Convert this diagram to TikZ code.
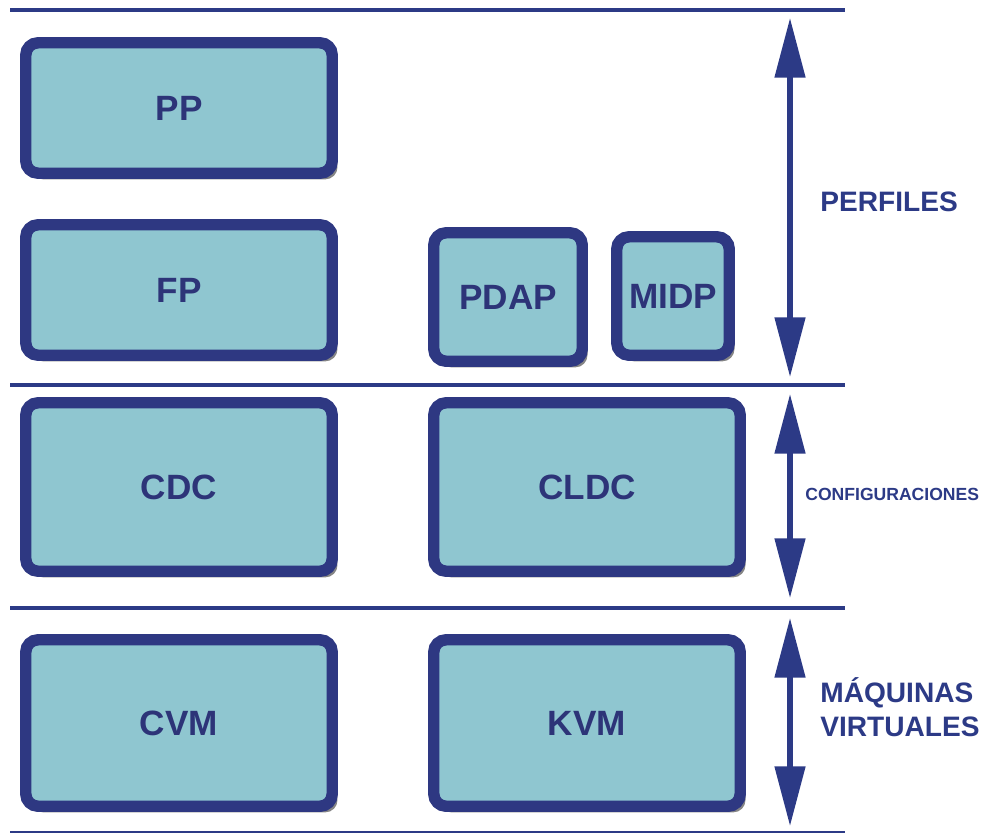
\documentclass[tikz,border=0pt]{standalone}
\usepackage{fontspec}
\setmainfont{Liberation Sans}
\usetikzlibrary{arrows.meta,shadows}

\definecolor{boxfill}{HTML}{8FC6D0}
\definecolor{boxedge}{HTML}{2E3882}
\definecolor{layerline}{HTML}{2C3A86}
\definecolor{boxtext}{HTML}{2D3478}

\begin{document}
\begin{tikzpicture}[x=0.02cm,y=-0.02cm,
    box/.style={draw=boxedge,fill=boxfill,line width=6.5pt,rounded corners=7pt,
      text=boxtext,font=\fontsize{20}{24}\selectfont\bfseries,
      drop shadow={shadow xshift=3pt,shadow yshift=-3.5pt,fill=black!80,opacity=0.6}},
    layer/.style={draw=layerline,line width=2.3pt},
    span/.style={draw=layerline,line width=3pt,
      {Triangle[width=17pt,length=34pt]}-{Triangle[width=17pt,length=34pt]}},
    tag/.style={text=layerline,font=\fontsize{16}{19}\selectfont\bfseries,
      anchor=west,align=left,inner sep=0pt}]
  \useasboundingbox (0,0) rectangle (1003,835);

  % Layer separators.
  \foreach \y/\w in {10/2.3pt,385/2.3pt,608/2.3pt,832/1.2pt} {
    \draw[layer,line width=\w] (10,\y) -- (845,\y);
  }

  % Boxes: name/x/y/width/height/text.
  \foreach \name/\x/\y/\w/\h/\txt in {
      pp/179/108/6.13/2.61/PP,
      fp/179/290/6.13/2.61/FP,
      pdap/508/297/2.97/2.57/PDAP,
      midp/673/296/2.25/2.37/MIDP,
      cdc/179/487/6.13/3.37/CDC,
      cldc/587/487/6.13/3.37/CLDC,
      cvm/179/723/6.13/3.33/CVM,
      kvm/587/723/6.13/3.33/KVM} {
    \node[box,minimum width=\w cm,minimum height=\h cm] (\name) at (\x,\y) {\txt};
  }

  % Extent arrows for each layer.
  \coordinate (perfA) at (790,18);
  \coordinate (perfB) at (790,377);
  \coordinate (confA) at (790,394);
  \coordinate (confB) at (790,598);
  \coordinate (maqA) at (790,618);
  \coordinate (maqB) at (790,826);
  \draw[span] (perfA) -- (perfB);
  \draw[span] (confA) -- (confB);
  \draw[span] (maqA) -- (maqB);

  \node[tag] (perfiles) at (820,202) {PERFILES};
  \node[tag,font=\fontsize{10}{12}\selectfont\bfseries] (config) at (805,494) {CONFIGURACIONES};
  \node[tag,font=\fontsize{16}{19.5}\selectfont\bfseries] (maquinas) at (820,707) {MÁQUINAS\\VIRTUALES};
\end{tikzpicture}
\end{document}
